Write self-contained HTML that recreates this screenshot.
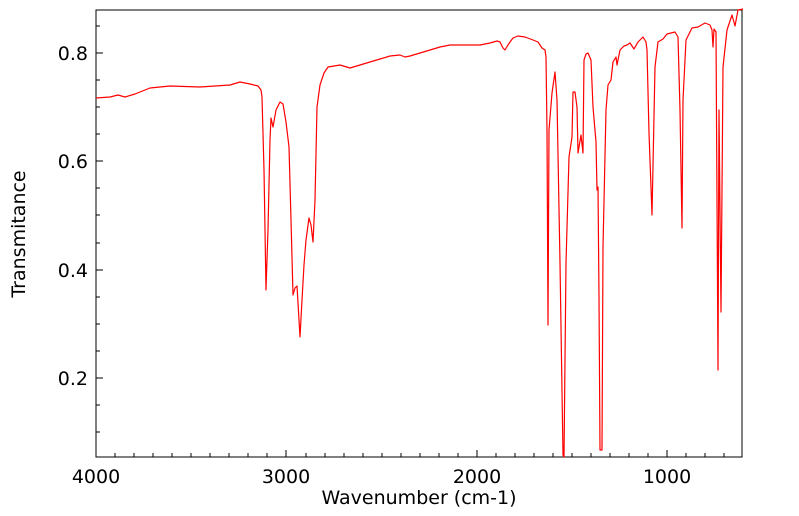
<!DOCTYPE html>
<html><head><style>
html,body{margin:0;padding:0;background:#fff;}
svg{display:block;font-family:"DejaVu Sans","Liberation Sans",sans-serif;}
</style></head><body>
<svg width="799" height="516" viewBox="0 0 799 516" xmlns="http://www.w3.org/2000/svg">
<rect width="799" height="516" fill="#fff"/>
<g stroke="#000" stroke-width="1">
<path d="M115,457v-4M134,457v-4M153,457v-4M172,457v-4M191,457v-4M210,457v-4M229,457v-4M248,457v-4M267,457v-4
M306,457v-4M325,457v-4M344,457v-4M363,457v-4M382,457v-4M401,457v-4M420,457v-4M439,457v-4M458,457v-4
M496,457v-4M515,457v-4M534,457v-4M553,457v-4M572,457v-4M591,457v-4M610,457v-4M629,457v-4M648,457v-4
M686,457v-4M705,457v-4M724,457v-4"/>
<path d="M96,457v-7M286,457v-7M477,457v-7M667,457v-7"/>
<path d="M96,53h7M96,161h7M96,270h7M96,378h7"/>
<path d="M96,26h4M96,80h4M96,107h4M96,134h4M96,188h4M96,215h4M96,243h4M96,297h4M96,324h4M96,351h4M96,405h4M96,432h4"/>
</g>
<rect x="96" y="10" width="646" height="447" fill="none" stroke="#000" stroke-width="1"/>
<polyline fill="none" stroke="#ff0000" stroke-width="1.2" stroke-linejoin="round" points="
96,98 110,97 118,95 125,97 135,94 150,88 170,86 200,87 230,85 240,82 250,84 258,86 261,90 262,97 264,170 266,290 268,230 270,140 271,118 273,127 276,110 280,102 283,104 286,122 289,147 291,220 293,295 295,288 297,286 300,337 302,300 304,265 306,240 309,218 311,225 313,242 315,200 317,107 320,85 324,73 328,67 340,65 350,68 360,65 370,62 380,59 390,56 400,55 405,57 410,56 420,53 430,50 440,47 450,45 460,45 470,45 480,45 490,43 497,41 500,42 503,48 505,50 508,45 510,42 513,38 518,36 525,37 533,40 538,42 542,48 545,50 546,57 547,130 548,325 549,130 552,93 555,72 557,100 560,263 563,455 564,457 566,263 569,157 572,137 573,92 575,92 577,107 578,153 581,135 583,153 584,60 586,54 588,53 591,60 593,107 596,142 597,190 598,187 599,297 600,450 602,450 603,247 606,110 608,85 611,80 613,62 616,57 617,65 620,50 624,46 627,45 630,43 634,49 638,42 643,37 646,42 647,50 649,133 652,215 655,67 658,42 663,39 667,34 675,32 678,37 680,110 682,228 683,100 686,40 692,28 698,27 705,23 710,25 712,30 713,47 714,29 716,32 718,370 719,110 721,312 723,67 727,30 732,15 735,26 738,10 743,9"/>
<g font-size="19" fill="#000">
<text x="88" y="60" text-anchor="end">0.8</text>
<text x="88" y="168" text-anchor="end">0.6</text>
<text x="88" y="277" text-anchor="end">0.4</text>
<text x="88" y="385" text-anchor="end">0.2</text>
<text x="96" y="483" text-anchor="middle">4000</text>
<text x="286" y="483" text-anchor="middle">3000</text>
<text x="477" y="483" text-anchor="middle">2000</text>
<text x="667" y="483" text-anchor="middle">1000</text>
<text x="419" y="504" text-anchor="middle">Wavenumber (cm-1)</text>
<text transform="translate(25,234) rotate(-90)" text-anchor="middle">Transmitance</text>
</g>
</svg>
</body></html>
